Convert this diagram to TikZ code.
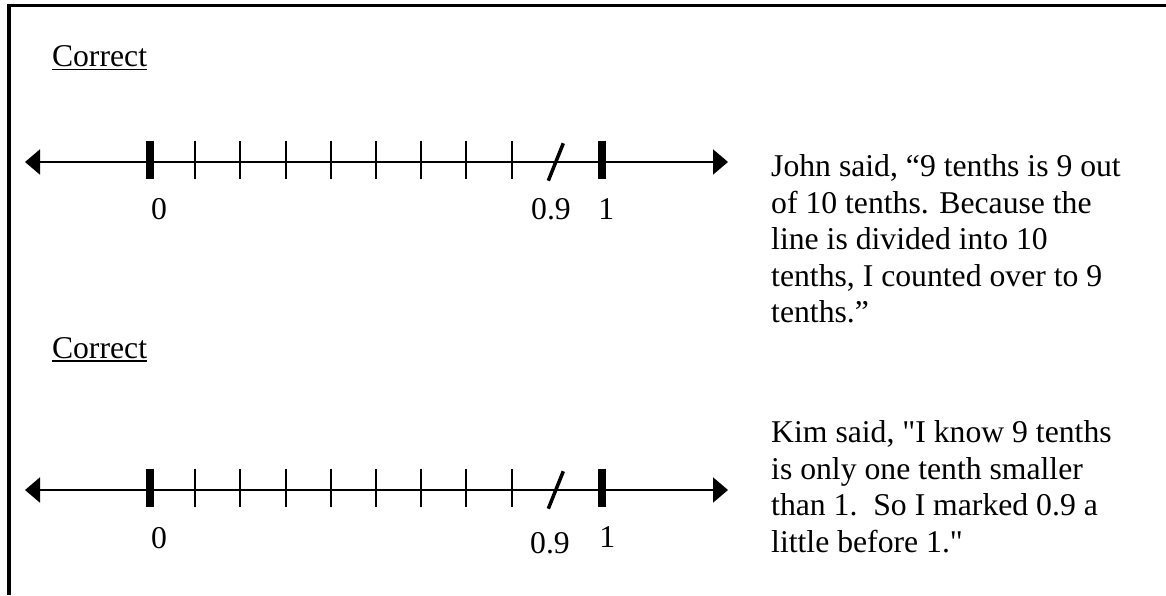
\documentclass[tikz,border=0pt]{standalone}
\usepackage{fontspec}
\newfontfamily\serifface{Liberation Serif}
\usetikzlibrary{arrows.meta}
\tikzset{
  txt/.style={font=\serifface\fontsize{31.7}{36.5}\selectfont, inner sep=0pt, anchor=base west},
  para/.style={txt, align=left},
  axisline/.style={line width=2pt,
    {Triangle[length=15pt,width=25pt]}-{Triangle[length=15pt,width=25pt]}},
  thintick/.style={line width=2pt},
  bigtick/.style={line width=8pt},
  ninemark/.style={line width=3.5pt},
  framestroke/.style={line width=3.5pt, line join=miter},
  uline/.style={line width=1.8pt},
}
\begin{document}
\begin{tikzpicture}[x=1pt,y=-1pt]
\useasboundingbox (0,0) rectangle (1166,595);

% open frame: left side and top only
\draw[framestroke] (9,595) -- (9,5.7) -- (1166,5.7);

% headings
\node[txt] (c1) at (51.8,66.5) {Correct};
\draw[uline] ([yshift=-3pt]c1.base west) -- ([yshift=-3pt]c1.base east);
\node[txt] (c2) at (51.8,358.3) {Correct};
\draw[uline] ([yshift=-3pt]c2.base west) -- ([yshift=-3pt]c2.base east);

% the two number lines from 0 to 1 in tenths
\foreach \n/\yy in {1/162, 2/490} {
  \coordinate (L\n) at (25,\yy);
  \coordinate (R\n) at (728,\yy);
  \draw[axisline] (L\n) -- (R\n);
  \foreach \k in {1,...,8}
    \draw[thintick] (150+45.2*\k,\yy-21.5) -- (150+45.2*\k,\yy+17);
  \draw[bigtick] (150,\yy-21.5) -- (150,\yy+17);
  \draw[bigtick] (602,\yy-21.5) -- (602,\yy+17);
  \draw[ninemark] (563.3,\yy-18.7) -- (548.3,\yy+18.7);
}

% labels under the first line
\node[txt] (z1) at (151,219.3) {0};
\node[txt] (n1) at (531,219.3) {0.9};
\node[txt] (o1) at (598.2,219.3) {1};

% labels under the second line
\node[txt] (z2) at (151,548.3) {0};
\node[txt] (n2) at (530,553.3) {0.9};
\node[txt] (o2) at (599.2,547.7) {1};

% explanations (the base anchor sits on the last line)
\node[para] (john) at (771,322.7) {John said, “9 tenths is 9 out\\
of 10 tenths. Because the\\
line is divided into 10\\
tenths, I counted over to 9\\
tenths.”};

\node[para] (kim) at (771,552.2) {Kim said, "I know 9 tenths\\
is only one tenth smaller\\
than 1.\ \ So I marked 0.9 a\\
little before 1."};
\end{tikzpicture}
\end{document}
